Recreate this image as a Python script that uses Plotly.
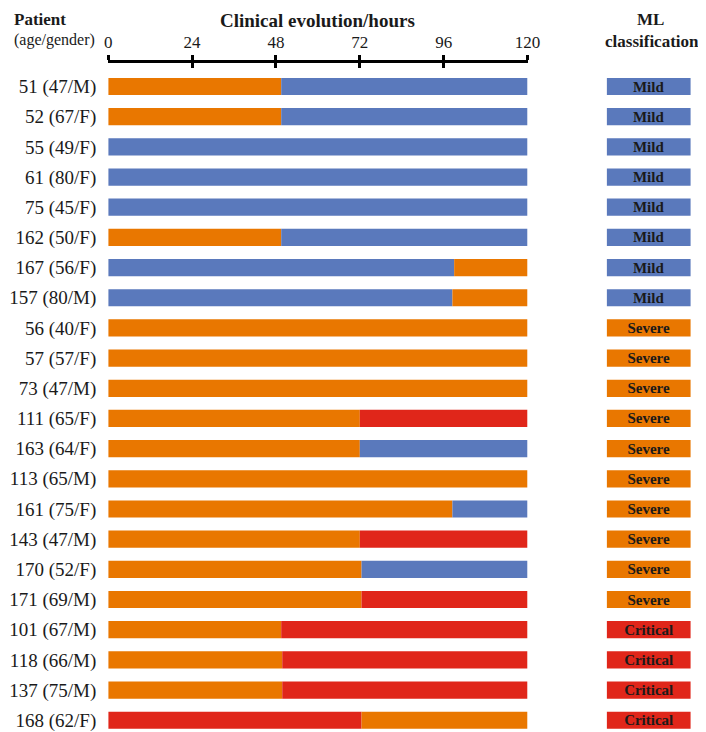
import plotly.graph_objects as go

patients = ["51 (47/M)", "52 (67/F)", "55 (49/F)", "61 (80/F)", "75 (45/F)", "162 (50/F)",
            "167 (56/F)", "157 (80/M)", "56 (40/F)", "57 (57/F)", "73 (47/M)", "111 (65/F)",
            "163 (64/F)", "113 (65/M)", "161 (75/F)", "143 (47/M)", "170 (52/F)", "171 (69/M)",
            "101 (67/M)", "118 (66/M)", "137 (75/M)", "168 (62/F)"]
first_state = ["Severe", "Severe", "Mild", "Mild", "Mild", "Severe", "Mild", "Mild",
               "Severe", "Severe", "Severe", "Severe", "Severe", "Severe", "Severe", "Severe",
               "Severe", "Severe", "Severe", "Severe", "Severe", "Critical"]
change_hour = [49.5, 49.5, 120, 120, 120, 49.5, 99, 98.5,
               120, 120, 120, 72, 72, 120, 98.5, 72,
               72.5, 72.5, 49.5, 49.8, 49.8, 72.5]
second_state = ["Mild", "Mild", None, None, None, "Mild", "Severe", "Severe",
                None, None, None, "Critical", "Mild", None, "Mild", "Critical",
                "Mild", "Critical", "Critical", "Critical", "Critical", "Severe"]
total_hours = 120
ml_class = ["Mild"] * 8 + ["Severe"] * 10 + ["Critical"] * 4
hour_ticks = [0, 24, 48, 72, 96, 120]

colors = {"Mild": "#5A79BC", "Severe": "#E97700", "Critical": "#E0261A"}
FONT = "Liberation Serif, Times New Roman, Times, serif"

W, H = 720, 724
OFFY = 8
TOP = 63 - OFFY
PH = H - TOP
SX, BX = 0.975, 12.2   # observed horizontal page mapping


def fx(p):
    return (p - BX) / SX / W


def fy(p):
    return (H - (p - OFFY)) / PH


n = len(patients)
ypos = list(range(n))
bw = 0.57

fig = go.Figure()
fig.add_trace(go.Bar(
    y=ypos, x=change_hour, base=[0] * n, orientation="h", width=bw,
    marker=dict(color=[colors[s] for s in first_state], line=dict(width=0)),
    xaxis="x", yaxis="y", showlegend=False, hoverinfo="skip"))
sec_len = [total_hours - c if s is not None else 0 for c, s in zip(change_hour, second_state)]
fig.add_trace(go.Bar(
    y=ypos, x=sec_len, base=change_hour, orientation="h", width=bw,
    marker=dict(color=[colors[s] if s else "rgba(0,0,0,0)" for s in second_state], line=dict(width=0)),
    xaxis="x", yaxis="y", showlegend=False, hoverinfo="skip"))
fig.add_trace(go.Bar(
    y=ypos, x=[1] * n, orientation="h", width=bw,
    marker=dict(color=[colors[c] for c in ml_class], line=dict(width=0)),
    text=[f"<b>{c}</b>" for c in ml_class], textposition="inside",
    insidetextanchor="middle", textangle=0, constraintext="none",
    textfont=dict(family=FONT, size=15, color="#1a1a1a"),
    xaxis="x2", yaxis="y", showlegend=False, hoverinfo="skip"))
fig.add_trace(go.Scatter(x=[0], y=[0], mode="markers", marker=dict(opacity=0),
                         xaxis="x3", yaxis="y", showlegend=False, hoverinfo="skip"))

x0, x1 = fx(108.3), fx(527.0)
fig.update_layout(
    width=W, height=H, autosize=False,
    margin=dict(l=0, r=0, t=TOP, b=0),
    paper_bgcolor="white", plot_bgcolor="white",
    barmode="overlay",
    font=dict(family=FONT, size=17, color="#1a1a1a"),
    xaxis=dict(domain=[x0, x1], range=[0, total_hours], side="top",
               tickvals=hour_ticks, ticktext=[str(t) for t in hour_ticks],
               ticks="outside", ticklen=5, tickwidth=2.5, tickcolor="black",
               showline=True, linewidth=2.5, linecolor="black",
               showgrid=False, zeroline=False, tickfont=dict(size=17),
               ticklabelstandoff=0, anchor="y", fixedrange=True),
    xaxis3=dict(domain=[x0, x1], range=[0, total_hours], side="top", overlaying="x",
                tickvals=hour_ticks, ticks="inside", ticklen=5, tickwidth=2.5,
                tickcolor="black", showticklabels=False, showline=False,
                showgrid=False, zeroline=False, anchor="y"),
    xaxis2=dict(domain=[fx(606), fx(690)], range=[0, 1], visible=False,
                anchor="y", fixedrange=True),
    yaxis=dict(range=[21.39, -0.779], tickvals=ypos, ticktext=patients,
               showgrid=False, zeroline=False, showline=False, ticks="",
               tickfont=dict(size=19), ticklabelstandoff=11, fixedrange=True),
)

ann = [
    dict(text="<b>Patient</b>", x=0.0, xanchor="left", y=fy(8), ya="top", size=17),
    dict(text="(age/gender)", x=0.0, xanchor="left", y=fy(40), ya="middle", size=16),
    dict(text="<b>Clinical evolution/hours</b>", x=fx(317), xanchor="center", y=fy(8), ya="top", size=19),
    dict(text="<b>ML</b>", x=fx(650), xanchor="center", y=fy(8), ya="top", size=17),
    dict(text="<b>classification</b>", x=fx(651), xanchor="center", y=fy(42), ya="middle", size=17),
]
for a in ann:
    fig.add_annotation(text=a["text"], x=a["x"], y=a["y"], xref="paper", yref="paper",
                       xanchor=a["xanchor"], yanchor=a["ya"], showarrow=False,
                       font=dict(family=FONT, size=a["size"], color="#1a1a1a"))

fig.write_html("out.html")
